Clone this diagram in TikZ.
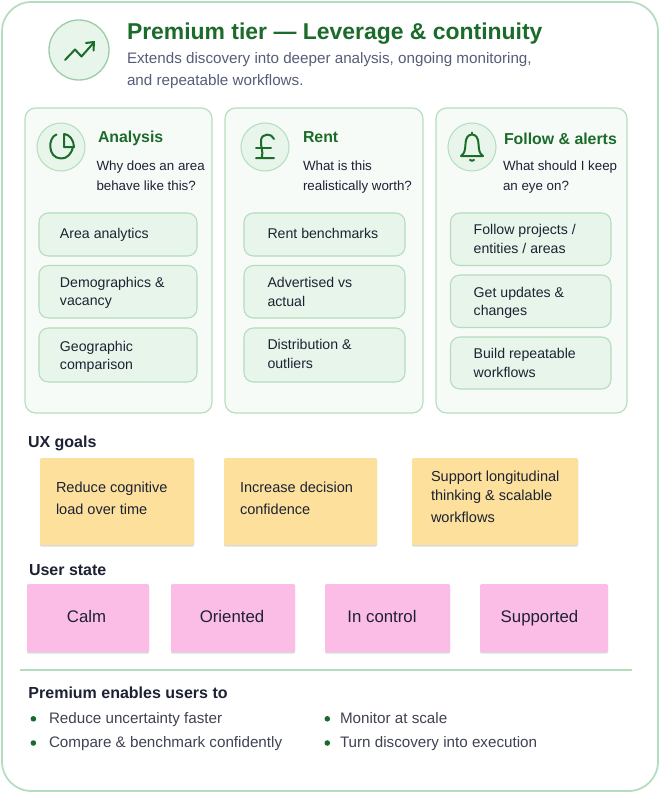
\documentclass[tikz,border=0pt]{standalone}
\usepackage{fontspec}
\setmainfont{Liberation Sans}
\usetikzlibrary{shadows}
\definecolor{frameG}{HTML}{B4DDBD}
\definecolor{cardG}{HTML}{F6FBF7}
\definecolor{cardL}{HTML}{B7DEBF}
\definecolor{itemG}{HTML}{E8F5EA}
\definecolor{itemL}{HTML}{B5DCBC}
\definecolor{darkG}{HTML}{1B6B2A}
\definecolor{subC}{HTML}{565D78}
\definecolor{inkC}{HTML}{1D2233}
\definecolor{yellowC}{HTML}{FCE09C}
\definecolor{pinkC}{HTML}{FBBDE6}
\tikzset{
  x=0.75pt,y=-0.75pt,
  boxbase/.style={anchor=north west,inner sep=0pt,outer sep=0pt},
  framebox/.style={draw=frameG,line width=1.3pt,fill=white,rounded corners=22pt},
  cardbox/.style={draw=cardL,line width=.9pt,fill=cardG,rounded corners=8pt},
  itembox/.style={draw=itemL,line width=.8pt,fill=itemG,rounded corners=7pt},
  yellowbox/.style={fill=yellowC,rounded corners=1pt,drop shadow={shadow xshift=0pt,shadow yshift=-1.2pt,opacity=.14,fill=black}},
  pinkbox/.style={fill=pinkC,rounded corners=1pt,drop shadow={shadow xshift=0pt,shadow yshift=-1.2pt,opacity=.14,fill=black}},
  iconring/.style={circle,draw=cardL,line width=.8pt,fill=itemG,inner sep=0pt},
  iconline/.style={draw=darkG,line width=1.5pt,line cap=round,line join=round},
  txt/.style={anchor=base west,inner sep=0pt,outer sep=0pt,align=left},
  titletxt/.style={txt,font=\fontsize{17.2}{22}\selectfont\bfseries,text=darkG},
  subtxt/.style={txt,font=\fontsize{11.4}{16.5}\selectfont,text=subC},
  headtxt/.style={txt,font=\fontsize{11.9}{15}\selectfont\bfseries,text=darkG},
  asktxt/.style={txt,font=\fontsize{10}{15}\selectfont,text=inkC},
  itemtxt/.style={txt,font=\fontsize{10.6}{13.9}\selectfont,text=inkC},
  sectxt/.style={txt,font=\fontsize{12}{14}\selectfont\bfseries,text=inkC},
  notetxt/.style={txt,font=\fontsize{10.9}{16.2}\selectfont,text=inkC},
  pinktxt/.style={anchor=base,inner sep=0pt,font=\fontsize{12.6}{15}\selectfont,text=inkC},
  listtxt/.style={txt,font=\fontsize{11.4}{14}\selectfont,text=inkC!85!white},
  dotmark/.style={circle,fill=darkG,inner sep=0pt,minimum size=4.2pt},
}
% name, x1, y1, x2, y2, style
\newcommand{\pxbox}[6]{\node[boxbase,#6,minimum width=\dimexpr#4pt*3/4-#2pt*3/4\relax,minimum height=\dimexpr#5pt*3/4-#3pt*3/4\relax] (#1) at (#2,#3) {};}
\begin{document}
\begin{tikzpicture}
\useasboundingbox (0,0) rectangle (660,793);
\fill[white] (0,0) rectangle (660,793);
\pxbox{frame}{2}{2}{658}{791}{framebox}
% header
\node[iconring,minimum size=45pt,line width=1pt,draw=cardL!85!darkG] (hicon) at (79,50) {};
\draw[iconline] (65,60) -- (75,49.5) -- (81.5,56.5) -- (93,43.5);
\draw[iconline] (86,43) -- (94,42) -- (93.5,50.5);
\node[titletxt] (title) at (127,39) {Premium tier — Leverage \& continuity};
\node[subtxt] (subtitle) at (127,85.2) {Extends discovery into deeper analysis, ongoing monitoring,\\and repeatable workflows.};
% cards
\pxbox{cardA}{25}{108}{212}{413}{cardbox}
\pxbox{cardB}{225}{108}{423}{413}{cardbox}
\pxbox{cardC}{436}{108}{627}{413}{cardbox}
\node[iconring,minimum size=36pt] (iconA) at (61,147) {};
\node[iconring,minimum size=36pt] (iconB) at (265,147) {};
\node[iconring,minimum size=36pt] (iconC) at (472,147) {};
% pie
\draw[iconline] (56.5,134.5) .. controls (48,137) and (47,158) .. (61,158.5) .. controls (67,159) and (72,153) .. (73,147);
\draw[iconline] (64,134) -- (64,147) -- (74,147) .. controls (74,140) and (69,134) .. (64,134);
% pound
\draw[iconline] (274,139) .. controls (272,133) and (262,133) .. (261,140) .. controls (260,147) and (264,150) .. (261.5,158) -- (256,158) -- (274,158);
\draw[iconline] (256,147.5) -- (271,147.5);
% bell
\draw[iconline] (461,156) .. controls (465,153) and (465,150) .. (465.5,144) .. controls (466,137) and (468,135) .. (472,134.5) .. controls (476,135) and (478,137) .. (478.5,144) .. controls (479,150) and (479,153) .. (483,156) -- cycle;
\draw[iconline] (472,134) -- (472,132.5);
\draw[iconline] (470,160) .. controls (471,161) and (473,161) .. (474,160);
% card heads
\node[headtxt] (headA) at (98,142.5) {Analysis};
\node[headtxt] (headB) at (303,142.5) {Rent};
\node[headtxt] (headC) at (504,144) {Follow \& alerts};
\node[asktxt] (askA) at (96.5,190.5) {Why does an area\\behave like this?};
\node[asktxt] (askB) at (303,190.5) {What is this\\realistically worth?};
\node[asktxt] (askC) at (503,190.5) {What should I keep\\an eye on?};
% items
\pxbox{a1}{39}{213}{197}{256}{itembox}
\pxbox{a2}{39}{265.5}{197}{318}{itembox}
\pxbox{a3}{39}{328}{197}{382}{itembox}
\pxbox{b1}{244}{213}{405}{256}{itembox}
\pxbox{b2}{244}{265.5}{405}{318}{itembox}
\pxbox{b3}{244}{328}{405}{382}{itembox}
\pxbox{c1}{450.5}{213}{611}{265.5}{itembox}
\pxbox{c2}{450.5}{275}{611}{327.5}{itembox}
\pxbox{c3}{450.5}{337}{611}{389}{itembox}
\node[itemtxt] (ta1) at (60,238.5) {Area analytics};
\node[itemtxt] (ta2) at (60,305.7) {Demographics \&\\vacancy};
\node[itemtxt] (ta3) at (60,369.7) {Geographic\\comparison};
\node[itemtxt] (tb1) at (267.5,238.5) {Rent benchmarks};
\node[itemtxt] (tb2) at (267.5,306) {Advertised vs\\actual};
\node[itemtxt] (tb3) at (267.5,368.5) {Distribution \&\\outliers};
\node[itemtxt] (tc1) at (473.7,253) {Follow projects /\\entities / areas};
\node[itemtxt] (tc2) at (473.7,315.7) {Get updates \&\\changes};
\node[itemtxt] (tc3) at (473.7,377) {Build repeatable\\workflows};
% UX goals
\node[sectxt] (ux) at (28,447.3) {UX goals};
\pxbox{y1}{40}{458}{194}{545}{yellowbox}
\pxbox{y2}{224}{458}{377}{545}{yellowbox}
\pxbox{y3}{412}{458}{578}{545}{yellowbox}
\node[notetxt] (ty1) at (56,514) {Reduce cognitive\\load over time};
\node[notetxt] (ty2) at (240,514) {Increase decision\\confidence};
\node[notetxt] (ty3) at (431,522.3) {Support longitudinal\\[-1.7pt]thinking \& scalable\\workflows};
% user state
\node[sectxt] (us) at (29,575) {User state};
\pxbox{p1}{27}{584}{149}{652}{pinkbox}
\pxbox{p2}{171}{584}{295}{652}{pinkbox}
\pxbox{p3}{325}{584}{450}{652}{pinkbox}
\pxbox{p4}{480}{584}{608}{652}{pinkbox}
\node[pinktxt] (tp1) at (86.5,622.7) {Calm};
\node[pinktxt] (tp2) at (232,622.7) {Oriented};
\node[pinktxt] (tp3) at (382,622.7) {In control};
\node[pinktxt] (tp4) at (539.5,622.7) {Supported};
% divider
\coordinate (dl) at (20,670);
\coordinate (dr) at (632,670);
\draw[draw=frameG,line width=1pt] (dl) -- (dr);
% list
\node[sectxt] (pe) at (28.5,698.5) {Premium enables users to};
\node[dotmark] (d1) at (33.4,718.8) {};
\node[dotmark] (d2) at (33.4,743) {};
\node[dotmark] (d3) at (327.3,718.8) {};
\node[dotmark] (d4) at (327.3,743) {};
\node[listtxt] (l1) at (49,723.3) {Reduce uncertainty faster};
\node[listtxt] (l2) at (49,747.7) {Compare \& benchmark confidently};
\node[listtxt] (l3) at (340,723.3) {Monitor at scale};
\node[listtxt] (l4) at (340,747.7) {Turn discovery into execution};
\end{tikzpicture}
\end{document}
